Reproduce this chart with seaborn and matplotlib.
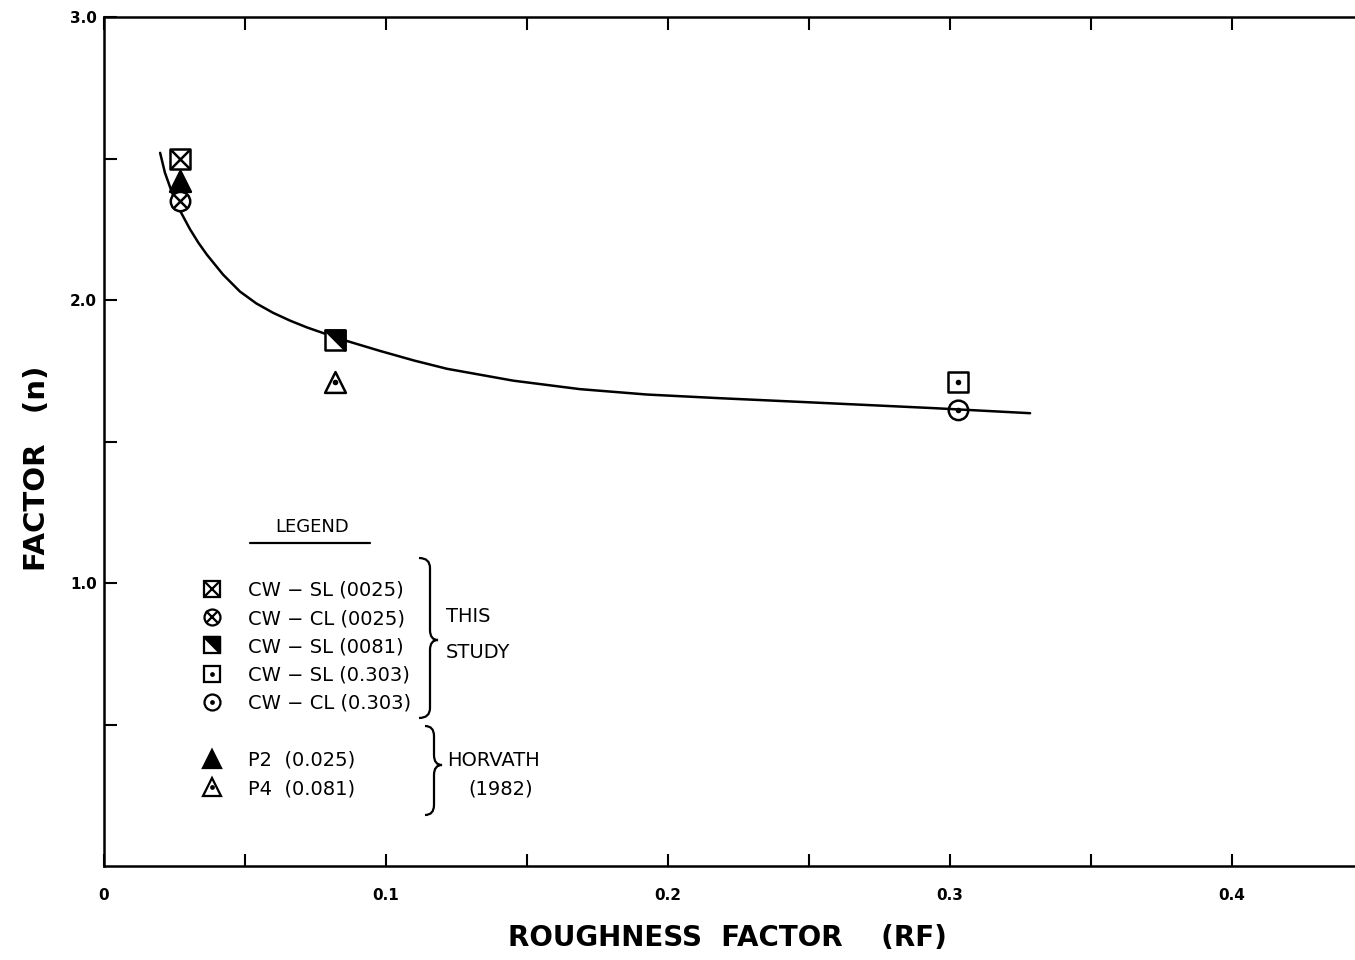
import matplotlib
matplotlib.use("Agg")
import matplotlib.pyplot as plt
from matplotlib.path import Path
from matplotlib.patches import PathPatch
from matplotlib.lines import Line2D
import pandas as pd
import seaborn as sns

# ---- data -------------------------------------------------------------
# fitted curve of the exponent n against roughness factor RF
curve_rf = [0.0199, 0.0216, 0.0241, 0.0270, 0.0305, 0.0335, 0.0365, 0.0422,
            0.0482, 0.0540, 0.0599, 0.0660, 0.0720, 0.0801, 0.0862, 0.0979,
            0.1100, 0.1216, 0.1451, 0.1688, 0.1925, 0.2184, 0.2468, 0.2705,
            0.2940, 0.3284]
curve_n = [2.520, 2.450, 2.380, 2.315, 2.250, 2.202, 2.160, 2.090,
           2.030, 1.988, 1.955, 1.927, 1.903, 1.875, 1.855, 1.820,
           1.786, 1.757, 1.715, 1.685, 1.666, 1.653, 1.640, 1.629,
           1.618, 1.600]

# measured points
series_keys = ["cwsl1", "cwcl1", "cwsl2", "cwsl3", "cwcl3", "p2", "p4"]
series_rf = [0.027, 0.027, 0.082, 0.303, 0.303, 0.027, 0.082]
series_n = [2.50, 2.35, 1.86, 1.71, 1.61, 2.42, 1.71]
legend_labels = ["CW − SL (0025)", "CW − CL (0025)", "CW − SL (0081)",
                 "CW − SL (0.303)", "CW − CL (0.303)",
                 "P2  (0.025)", "P4  (0.081)"]

x_ticks = [0.0, 0.05, 0.1, 0.15, 0.2, 0.25, 0.3, 0.35, 0.4]
x_ticklabels = ["0", "", "0.1", "", "0.2", "", "0.3", "", "0.4"]
y_ticks = [0.5, 1.0, 1.5, 2.0, 2.5, 3.0]
y_ticklabels = ["", "1.0", "", "2.0", "", "3.0"]

# ---- style --------------------------------------------------------------
sns.set_theme(style="white")
plt.rcParams["font.family"] = ["DejaVu Sans"]
plt.rcParams.update({"text.color": "black", "axes.labelcolor": "black",
                     "xtick.color": "black", "ytick.color": "black"})

W, H, DPI = 1355, 960, 100
fig = plt.figure(figsize=(W / DPI, H / DPI), dpi=DPI)
ax = fig.add_axes([104 / W, 1 - 866 / H, (W - 104) / W, (866 - 17) / H])

# half-black square: upper-right triangle
half_tri = Path([(-1, 1), (1, 1), (1, -1), (-1, 1)],
                [Path.MOVETO, Path.LINETO, Path.LINETO, Path.CLOSEPOLY])

LW = 1.8
# layered marker styles: (marker, size in pt, face, edge)
marker_layers = {
    "cwsl1": [("s", 14, "white", "black"), ("x", 13, "black", "black")],
    "cwcl1": [("o", 14, "white", "black"), ("x", 10, "black", "black")],
    "cwsl2": [("s", 14, "white", "black"), (half_tri, 14, "black", "black")],
    "cwsl3": [("s", 14, "white", "black"), ("o", 2.2, "black", "black")],
    "cwcl3": [("o", 14, "none", "black"), ("o", 2.2, "black", "black")],
    "p2": [("^", 15, "black", "black")],
    "p4": [("^", 15, "white", "black"), ("o", 2.2, "black", "black")],
}

# curve
sns.lineplot(x=curve_rf, y=curve_n, sort=False, color="black", lw=LW,
             ax=ax, zorder=2, solid_joinstyle="round")

# points
pts = pd.DataFrame({"key": series_keys, "rf": series_rf, "n": series_n})
for key in series_keys:
    sub = pts[pts["key"] == key]
    for i, (m, sz, fc, ec) in enumerate(marker_layers[key]):
        kws = dict(data=sub, x="rf", y="n", marker=m, s=sz ** 2, ax=ax,
                   legend=False, zorder=3 + i)
        if m == "x":
            kws.update(color=ec, linewidth=LW)
        else:
            kws.update(facecolor=fc, edgecolor=ec, linewidth=LW)
        sns.scatterplot(**kws)

# ---- axes ---------------------------------------------------------------
ax.set_xlim(0, (W - 104) / 2820)
ax.set_ylim(0, 3.0)
ax.set_xticks(x_ticks)
ax.set_xticklabels(x_ticklabels)
ax.set_yticks(y_ticks)
ax.set_yticklabels(y_ticklabels)
for side in ["left", "bottom", "top"]:
    ax.spines[side].set_visible(True)
    ax.spines[side].set_linewidth(LW)
    ax.spines[side].set_color("black")
ax.spines["right"].set_visible(False)
ax.tick_params(axis="x", direction="in", length=9, width=1.5, top=True,
               bottom=True, pad=16, labelsize=11, colors="black")
ax.tick_params(axis="y", direction="in", length=9, width=1.5, left=True,
               pad=5, labelsize=11, colors="black")
for lab in ax.get_xticklabels() + ax.get_yticklabels():
    lab.set_fontweight("bold")

ax.set_xlabel("ROUGHNESS  FACTOR    (RF)", fontsize=20, fontweight="bold")
ax.xaxis.set_label_coords((727 - 104) / (W - 104), (866 - 938) / 849)
ax.xaxis.label.set_va("center")
ax.set_ylabel("FACTOR   (n)", fontsize=21, fontweight="bold")
ax.yaxis.set_label_coords((37 - 104) / (W - 104), (866 - 468) / 849)
ax.yaxis.label.set_va("center")


# ---- legend -------------------------------------------------------------
def handle_for(key, scale=0.82):
    parts = []
    for m, sz, fc, ec in marker_layers[key]:
        if m == "x":
            parts.append(Line2D([], [], ls="none", marker=m, markersize=sz * scale,
                                color=ec, markeredgewidth=LW * 0.9))
        else:
            parts.append(Line2D([], [], ls="none", marker=m, markersize=sz * scale,
                                markerfacecolor=fc, markeredgecolor=ec,
                                markeredgewidth=LW * 0.9))
    return tuple(parts)


FS = 14
fs_px = FS * DPI / 72
leg_kw = dict(frameon=False, fontsize=FS, handlelength=1.0, handletextpad=1.36,
              labelspacing=0.47, borderpad=0, borderaxespad=0,
              loc="upper left", bbox_transform=fig.transFigure)
x_leg = (212 - 0.5 * fs_px) / W

leg1 = ax.legend([handle_for(k) for k in series_keys[:5]], legend_labels[:5],
                 bbox_to_anchor=(x_leg, 1 - 581 / H), **leg_kw)
ax.add_artist(leg1)
leg2 = ax.legend([handle_for(k) for k in series_keys[5:]], legend_labels[5:],
                 bbox_to_anchor=(x_leg, 1 - 751 / H), **leg_kw)


def fx(px):
    return px / W


def fy(py):
    return 1 - py / H


fig.text(fx(312), fy(527), "LEGEND", fontsize=13, ha="center", va="center")
fig.add_artist(Line2D([fx(250), fx(370)], [fy(543), fy(543)], color="black",
                      lw=1.6))


def brace(x0, xm, xt, yt, ymid, yb, r=10):
    verts = [(x0, yt), (xm, yt), (xm, yt + r), (xm, ymid - r), (xm, ymid),
             (xt, ymid), (xm, ymid), (xm, ymid + r), (xm, yb - r), (xm, yb),
             (x0, yb)]
    codes = [Path.MOVETO, Path.CURVE3, Path.CURVE3, Path.LINETO, Path.CURVE3,
             Path.CURVE3, Path.CURVE3, Path.CURVE3, Path.LINETO, Path.CURVE3,
             Path.CURVE3]
    p = Path([(fx(a), fy(b)) for a, b in verts], codes)
    fig.add_artist(PathPatch(p, fill=False, lw=1.6, color="black",
                             transform=fig.transFigure))


brace(419, 430, 438, 558, 640, 718)
brace(425, 434, 442, 726, 765, 815)

fig.text(fx(446), fy(617), "THIS", fontsize=FS, va="center")
fig.text(fx(446), fy(652), "STUDY", fontsize=FS, va="center")
fig.text(fx(447), fy(760), "HORVATH", fontsize=FS, va="center")
fig.text(fx(468), fy(789), "(1982)", fontsize=FS, va="center")

fig.savefig("out.png", dpi=DPI)
